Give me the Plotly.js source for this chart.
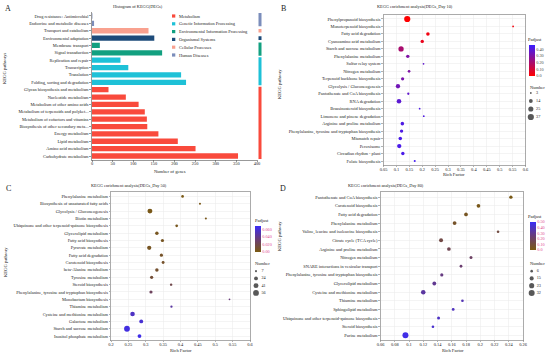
<!DOCTYPE html>
<html><head><meta charset="utf-8">
<script src="https://cdn.plot.ly/plotly-3.0.1.min.js"></script>
<style>html,body{margin:0;padding:0;background:#fff}#chart{width:550px;height:355px}</style>
</head><body><div id="chart"></div>
<script>
const W = 550, H = 355;
const fx = p => p / W, fy = p => 1 - p / H;
const FONT = 'Liberation Serif, Times New Roman, serif';

// ---------- Panel A data ----------
const aLabels = ['Drug resistance: Antimicrobial','Endocrine and metabolic diseases','Transport and catabolism','Environmental adaptation','Membrane transport','Signal transduction','Replication and repair','Transcription','Translation','Folding, sorting and degradation','Glycan biosynthesis and metabolism','Nucleotide metabolism','Metabolism of other amino acids','Metabolism of terpenoids and polyket...','Metabolism of cofactors and vitamins','Biosynthesis of other secondary meta...','Energy metabolism','Lipid metabolism','Amino acid metabolism','Carbohydrate metabolism'];
const aValues = [1, 5, 137, 151, 19, 170, 69, 88, 216, 228, 40, 82, 113, 128, 133, 134, 161, 208, 251, 354];
const aGroupOf = [5, 5, 4, 3, 2, 2, 1, 1, 1, 1, 0, 0, 0, 0, 0, 0, 0, 0, 0, 0];
const groupNames = ['Metabolism','Genetic Information Processing','Environmental Information Processing','Organismal Systems','Cellular Processes','Human Diseases'];
const groupColors = ['#F94A3C','#1EC1D7','#12A080','#1D4B7A','#F9A18F','#7B8DBB'];

// ---------- Panel B data (Day 10) ----------
const bPath = ['Phenylpropanoid biosynthesis','Monoterpenoid biosynthesis','Fatty acid degradation','Cyanoamino acid metabolism','Starch and sucrose metabolism','Phenylalanine metabolism','Sulfur relay system','Nitrogen metabolism','Terpenoid backbone biosynthesis','Glycolysis / Gluconeogenesis','Pantothenate and CoA biosynthesis','RNA degradation','Brassinosteroid biosynthesis','Limonene and pinene degradation','Arginine and proline metabolism','Phenylalanine, tyrosine and tryptophan biosynthesis','Mismatch repair','Peroxisome','Circadian rhythm - plant','Folate biosynthesis'];
const bRich = [0.142, 0.552, 0.222, 0.200, 0.118, 0.144, 0.205, 0.149, 0.124, 0.106, 0.146, 0.110, 0.190, 0.206, 0.123, 0.120, 0.115, 0.111, 0.125, 0.171];
const bCount = [37, 3, 12, 11, 27, 11, 3, 7, 10, 18, 5, 20, 3, 3, 12, 11, 12, 18, 11, 4];
const bPadj = [0.002, 0.02, 0.03, 0.05, 0.20, 0.30, 0.37, 0.30, 0.31, 0.33, 0.37, 0.38, 0.41, 0.41, 0.41, 0.41, 0.42, 0.42, 0.42, 0.44];
const bLegendN = [3, 14, 25, 37];

// ---------- Panel C data (Day 50) ----------
const cPath = ['Phenylalanine metabolism','Biosynthesis of unsaturated fatty acids','Glycolysis / Gluconeogenesis','Biotin metabolism','Ubiquinone and other terpenoid-quinone biosynthesis','Glycerolipid metabolism','Fatty acid biosynthesis','Pyruvate metabolism','Fatty acid degradation','Carotenoid biosynthesis','beta-Alanine metabolism','Tyrosine metabolism','Steroid biosynthesis','Phenylalanine, tyrosine and tryptophan biosynthesis','Monobactam biosynthesis','Thiamine metabolism','Cysteine and methionine metabolism','Galactose metabolism','Starch and sucrose metabolism','Inositol phosphate metabolism'];
const cRich = [0.406, 0.456, 0.312, 0.473, 0.389, 0.332, 0.348, 0.310, 0.345, 0.350, 0.332, 0.317, 0.373, 0.315, 0.541, 0.374, 0.262, 0.287, 0.246, 0.282];
const cCount = [12, 7, 41, 7, 12, 20, 17, 30, 17, 14, 20, 17, 10, 17, 5, 9, 35, 25, 56, 24];
const cPadj = [0.001, 0.002, 0.002, 0.003, 0.004, 0.005, 0.006, 0.006, 0.008, 0.009, 0.010, 0.013, 0.020, 0.026, 0.036, 0.046, 0.056, 0.060, 0.064, 0.066];
const cLegendN = [7, 24, 41, 56];

// ---------- Panel D data (Day 80) ----------
const dPath = ['Pantothenate and CoA biosynthesis','Carotenoid biosynthesis','Fatty acid degradation','Phenylalanine metabolism','Valine, leucine and isoleucine biosynthesis','Citrate cycle (TCA cycle)','Arginine and proline metabolism','Nitrogen metabolism','SNARE interactions in vesicular transport','Phenylalanine, tyrosine and tryptophan biosynthesis','Glycerolipid metabolism','Cysteine and methionine metabolism','Thiamine metabolism','Sphingolipid metabolism','Ubiquinone and other terpenoid-quinone biosynthesis','Steroid biosynthesis','Purine metabolism'];
const dRich = [0.243, 0.1975, 0.180, 0.164, 0.225, 0.145, 0.156, 0.187, 0.173, 0.146, 0.1355, 0.120, 0.175, 0.162, 0.1415, 0.1336, 0.095];
const dCount = [10, 12, 12, 13, 6, 14, 12, 8, 7, 9, 13, 18, 6, 7, 8, 6, 32];
const dPadj = [0.01, 0.02, 0.04, 0.06, 0.12, 0.13, 0.16, 0.20, 0.23, 0.27, 0.30, 0.33, 0.37, 0.39, 0.40, 0.42, 0.47];
const dLegendN = [6, 15, 23, 32];

// ---------- helpers ----------
const textCol = '#222';
const sizeFn = (maxN, dmax) => n => Math.max(1.6, dmax * Math.sqrt(n / maxN));
const scaleBlue = [[0, '#FF0000'], [1, '#3A1EFF']];
const scaleBrown = [[0, '#7A5A12'], [0.5, '#6A3C78'], [1, '#3B2CF6']];

const data = [];
const shapes = [];
const annotations = [];

function ann(text, xp, yp, size, opts) {
  annotations.push(Object.assign({
    text: text, xref: 'paper', yref: 'paper', x: fx(xp), y: fy(yp),
    showarrow: false, xanchor: 'center', yanchor: 'middle',
    font: {family: FONT, size: size, color: textCol}
  }, opts || {}));
}

// ---------- Panel A traces ----------
groupNames.forEach((g, gi) => {
  const ys = [], xs = [];
  aLabels.forEach((c, i) => { if (aGroupOf[i] === gi) { ys.push(c); xs.push(aValues[i]); } });
  data.push({type: 'bar', orientation: 'h', x: xs, y: ys, xaxis: 'x', yaxis: 'y',
    marker: {color: groupColors[gi], line: {width: 0}}, width: 0.72, showlegend: false,
    hoverinfo: 'x+y'});
  const idx = aLabels.map((c, i) => aGroupOf[i] === gi ? i : -1).filter(i => i >= 0);
  if (idx.length) {
    const lo = Math.min(...idx), hi = Math.max(...idx);
    const pad = idx.length === 1 ? 0.25 : 0.4;
    shapes.push({type: 'rect', xref: 'paper', yref: 'y', x0: fx(258.5), x1: fx(261.5),
      y0: lo - pad, y1: hi + pad, fillcolor: groupColors[gi], line: {width: 0}});
  }
  const ly = 16 + gi * 7.8;
  shapes.push({type: 'rect', xref: 'paper', yref: 'paper', x0: fx(172), x1: fx(175.3),
    y0: fy(ly + 1.6), y1: fy(ly - 1.6), fillcolor: groupColors[gi], line: {width: 0}});
  ann(g, 177, ly, 4.4, {xanchor: 'left'});
});

// ---------- Bubble panels ----------
function bubble(ax, path, rich, count, padj, legendN, dmax, cmax, cscale, cbTicks, cbText, cbCol, cb) {
  const sf = sizeFn(legendN[legendN.length - 1], dmax);
  data.push({type: 'scatter', mode: 'markers', x: rich, y: path, xaxis: 'x' + ax, yaxis: 'y' + ax,
    showlegend: false,
    marker: {size: count.map(sf), color: padj, cmin: 0, cmax: cmax, colorscale: cscale,
      line: {width: 0}, opacity: 1, showscale: true,
      colorbar: {x: fx(cb.x), xanchor: 'left', y: fy(cb.top), yanchor: 'top',
        len: (cb.bottom - cb.top) / H, lenmode: 'fraction', thickness: 6, thicknessmode: 'pixels',
        outlinewidth: 0, xpad: 0, ypad: 0, ticks: '', ticklabelpad: 1,
        tickvals: cbTicks, ticktext: cbText, tickfont: {family: FONT, size: 4.2, color: cbCol}}}
  });
  const lax = ax + 3;
  const idx = legendN.map((_, i) => i);
  data.push({type: 'scatter', mode: 'markers', x: legendN.map(() => 4), y: idx,
    xaxis: 'x' + lax, yaxis: 'y' + lax, showlegend: false, hoverinfo: 'skip',
    marker: {size: legendN.map(sf), color: '#111', line: {width: 0}}});
  data.push({type: 'scatter', mode: 'text', x: legendN.map(() => 9.5), y: idx,
    text: legendN.map(String), textposition: 'middle right',
    textfont: {family: FONT, size: 4.2, color: textCol},
    xaxis: 'x' + lax, yaxis: 'y' + lax, showlegend: false, hoverinfo: 'skip'});
}

bubble(2, bPath, bRich, bCount, bPadj, bLegendN, 6.2, 0.46, scaleBlue,
  [0, 0.1, 0.2, 0.3, 0.4], ['0.0', '0.10', '0.20', '0.30', '0.40'], '#444',
  {x: 529, top: 45, bottom: 76});
bubble(3, cPath, cRich, cCount, cPadj, cLegendN, 5.8, 0.07, scaleBrown,
  [0, 0.02, 0.04, 0.06], ['0.00', '0.020', '0.040', '0.060'], '#E0408E',
  {x: 255, top: 225.5, bottom: 251.5});
bubble(4, dPath, dRich, dCount, dPadj, dLegendN, 6, 0.5, scaleBrown,
  [0, 0.1, 0.2, 0.3, 0.4, 0.5], ['0.0', '0.10', '0.20', '0.30', '0.40', '0.50'], '#E0408E',
  {x: 530, top: 222, bottom: 250});

// ---------- axes ----------
const tickF = {family: FONT, size: 4.4, color: textCol};
const layout = {
  width: W, height: H, margin: {l: 0, r: 0, t: 0, b: 0},
  paper_bgcolor: '#fff', plot_bgcolor: 'rgba(0,0,0,0)',
  font: {family: FONT, size: 4.4, color: textCol},
  bargap: 0.25, showlegend: false,
  xaxis: {domain: [fx(92), fx(257)], range: [0, 400], dtick: 50, anchor: 'y',
    showline: true, linecolor: '#555', linewidth: 0.6, ticks: 'outside', ticklen: 1.5,
    tickwidth: 0.6, tickcolor: '#555', showgrid: false, zeroline: false, tickfont: tickF,
    ticklabelstandoff: -2, fixedrange: true},
  yaxis: {domain: [fy(159.7), fy(12.3)], type: 'category', categoryorder: 'array', categoryarray: aLabels,
    range: [aLabels.length - 0.5, -0.5], anchor: 'x', showline: true, linecolor: '#555', linewidth: 0.6,
    ticks: 'outside', ticklen: 2, tickwidth: 0.6, tickcolor: '#555', showgrid: false, tickfont: tickF, fixedrange: true},
  shapes: shapes, annotations: annotations
};

function bubbleAxes(ax, path, box, xr, dtick) {
  const n = path.length;
  layout['xaxis' + ax] = {domain: [fx(box.l), fx(box.r)], range: xr, dtick: dtick, anchor: 'y' + ax,
    showline: true, mirror: true, linecolor: '#888', linewidth: 0.7, showgrid: true,
    gridcolor: '#e9e9e9', gridwidth: 0.5, zeroline: false, ticks: 'outside', ticklen: 1.2,
    tickwidth: 0.5, tickcolor: '#666', tickfont: tickF, ticklabelstandoff: -2, fixedrange: true};
  layout['yaxis' + ax] = {domain: [fy(box.b), fy(box.t)], type: 'category', categoryorder: 'array',
    categoryarray: path, range: [n - 0.4, -0.6], anchor: 'x' + ax,
    showline: true, mirror: true, linecolor: '#888', linewidth: 0.7, showgrid: true,
    gridcolor: '#e9e9e9', gridwidth: 0.5, ticks: 'outside', ticklen: 1.5, tickwidth: 0.5,
    tickcolor: '#666', tickfont: tickF, fixedrange: true};
}
bubbleAxes(2, bPath, {l: 383.5, r: 525.5, t: 14.5, b: 165.5}, [0.05, 0.6], 0.05);
bubbleAxes(3, cPath, {l: 111, r: 250, t: 192, b: 340.5}, [0.2, 0.6], 0.05);
bubbleAxes(4, dPath, {l: 380.5, r: 523, t: 192, b: 340.5}, [0.06, 0.26], 0.02);

function legendAxes(ax, xl, top, bottom, n) {
  layout['xaxis' + ax] = {domain: [fx(xl), fx(xl + 24)], range: [0, 24], visible: false, anchor: 'y' + ax, fixedrange: true};
  layout['yaxis' + ax] = {domain: [fy(bottom), fy(top)], range: [n - 0.5, -0.5], visible: false, anchor: 'x' + ax, fixedrange: true};
}
legendAxes(5, 527, 89, 121, bLegendN.length);
legendAxes(6, 252, 267.5, 296.5, cLegendN.length);
legendAxes(7, 528, 267.5, 296.5, dLegendN.length);

// ---------- texts ----------
ann('A', 8, 9, 8);
ann('B', 283, 9, 8);
ann('C', 8, 188, 8);
ann('D', 283, 188, 8);
ann('Histogram of KEGG(DEGs)', 138, 6.5, 4.3);
ann('KEGG enrichment analysis(DEGs_Day 10)', 415, 6.5, 4.3);
ann('KEGG enrichment analysis(DEGs_Day 50)', 129, 185, 4.3);
ann('KEGG enrichment analysis(DEGs_Day 80)', 386, 185, 4.3);
ann('Number of genes', 170, 171, 4.6);
ann('Rich Factor', 454, 174.5, 4.6);
ann('Rich Factor', 181, 350, 4.6);
ann('Rich Factor', 453, 350, 4.6);
ann('KEGG pathways', 5, 69, 4.6, {textangle: -90});
ann('KEGG pathway', 279, 84, 4.6, {textangle: -90});
ann('KEGG pathway', 5, 262, 4.6, {textangle: -90});
ann('KEGG pathway', 279, 236, 4.6, {textangle: -90});
ann('Padjust', 526, 40, 4.5, {xanchor: 'left'});
ann('Padjust', 253, 221, 4.5, {xanchor: 'left'});
ann('Padjust', 526, 216.5, 4.5, {xanchor: 'left'});
ann('Number', 528, 87.5, 4.5, {xanchor: 'left'});
ann('Number', 253, 263.5, 4.5, {xanchor: 'left'});
ann('Number', 528, 263.5, 4.5, {xanchor: 'left'});

Plotly.newPlot('chart', data, layout, {staticPlot: true, displayModeBar: false});
</script>
</body></html>
